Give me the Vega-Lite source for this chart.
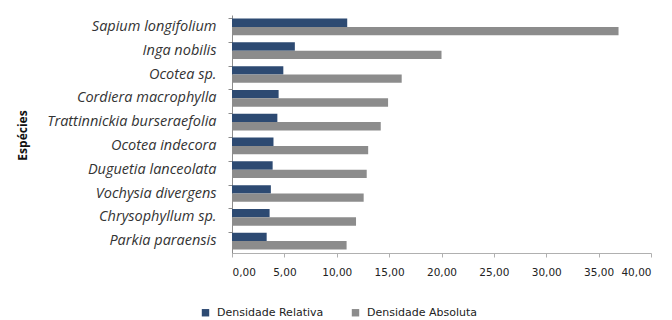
{
  "$schema": "https://vega.github.io/schema/vega-lite/v6.json",
  "width": 419,
  "height": 238,
  "autosize": {"type": "none"},
  "padding": {"left": 232, "top": 15, "right": 21, "bottom": 67},
  "background": "white",
  "data": {
    "values": [
      {"especie": "Sapium longifolium", "serie": "Densidade Relativa", "valor": 11.0},
      {"especie": "Sapium longifolium", "serie": "Densidade Absoluta", "valor": 36.9},
      {"especie": "Inga nobilis", "serie": "Densidade Relativa", "valor": 6.0},
      {"especie": "Inga nobilis", "serie": "Densidade Absoluta", "valor": 20.0},
      {"especie": "Ocotea sp.", "serie": "Densidade Relativa", "valor": 4.9},
      {"especie": "Ocotea sp.", "serie": "Densidade Absoluta", "valor": 16.2},
      {"especie": "Cordiera macrophylla", "serie": "Densidade Relativa", "valor": 4.45},
      {"especie": "Cordiera macrophylla", "serie": "Densidade Absoluta", "valor": 14.9},
      {"especie": "Trattinnickia burseraefolia", "serie": "Densidade Relativa", "valor": 4.33},
      {"especie": "Trattinnickia burseraefolia", "serie": "Densidade Absoluta", "valor": 14.2},
      {"especie": "Ocotea indecora", "serie": "Densidade Relativa", "valor": 3.96},
      {"especie": "Ocotea indecora", "serie": "Densidade Absoluta", "valor": 13.0},
      {"especie": "Duguetia lanceolata", "serie": "Densidade Relativa", "valor": 3.88},
      {"especie": "Duguetia lanceolata", "serie": "Densidade Absoluta", "valor": 12.86},
      {"especie": "Vochysia divergens", "serie": "Densidade Relativa", "valor": 3.71},
      {"especie": "Vochysia divergens", "serie": "Densidade Absoluta", "valor": 12.57},
      {"especie": "Chrysophyllum sp.", "serie": "Densidade Relativa", "valor": 3.59},
      {"especie": "Chrysophyllum sp.", "serie": "Densidade Absoluta", "valor": 11.84},
      {"especie": "Parkia paraensis", "serie": "Densidade Relativa", "valor": 3.31},
      {"especie": "Parkia paraensis", "serie": "Densidade Absoluta", "valor": 10.94}
    ]
  },
  "mark": {"type": "bar"},
  "encoding": {
    "y": {
      "field": "especie",
      "type": "nominal",
      "sort": ["Sapium longifolium", "Inga nobilis", "Ocotea sp.", "Cordiera macrophylla", "Trattinnickia burseraefolia", "Ocotea indecora", "Duguetia lanceolata", "Vochysia divergens", "Chrysophyllum sp.", "Parkia paraensis"],
      "scale": {"paddingInner": 0.3, "paddingOuter": 0.15},
      "axis": {
        "title": "Espécies",
        "titleFont": "Open Sans",
        "titleFontSize": 12,
        "titleFontWeight": "bold",
        "titleColor": "#111111",
        "titleAngle": -90,
        "titleX": -210,
        "titleY": 120,
        "titleAlign": "center",
        "titleBaseline": "middle",
        "labelFont": "Open Sans",
        "labelFontStyle": "italic",
        "labelFontSize": 14.5,
        "labelColor": "#333333",
        "labelPadding": 12,
        "bandPosition": 0,
        "tickSize": 4,
        "tickColor": "#8c8c8c",
        "domainColor": "#8c8c8c",
        "grid": false
      }
    },
    "yOffset": {
      "field": "serie",
      "type": "nominal",
      "sort": ["Densidade Relativa", "Densidade Absoluta"]
    },
    "x": {
      "field": "valor",
      "type": "quantitative",
      "scale": {"domain": [0, 40]},
      "axis": {
        "title": null,
        "values": [0, 5, 10, 15, 20, 25, 30, 35, 40],
        "labelExpr": "replace(format(datum.value, '.2f'), '.', ',')",
        "labelFont": "DejaVu Sans",
        "labelFontSize": 10.5,
        "labelColor": "#222222",
        "labelPadding": 10,
        "tickSize": 4,
        "tickColor": "#b0b0b0",
        "domainColor": "#b0b0b0",
        "grid": false
      }
    },
    "color": {
      "field": "serie",
      "type": "nominal",
      "sort": ["Densidade Relativa", "Densidade Absoluta"],
      "scale": {"domain": ["Densidade Relativa", "Densidade Absoluta"], "range": ["#2d4a72", "#8c8c8c"]},
      "legend": {
        "title": null,
        "orient": "none",
        "direction": "horizontal",
        "legendX": -32,
        "legendY": 292,
        "symbolType": "square",
        "symbolSize": 55,
        "symbolStrokeWidth": 0,
        "labelFont": "DejaVu Sans",
        "labelFontSize": 11,
        "labelColor": "#222222",
        "columnPadding": 26,
        "labelOffset": 6
      }
    }
  },
  "config": {"view": {"stroke": null}}
}
